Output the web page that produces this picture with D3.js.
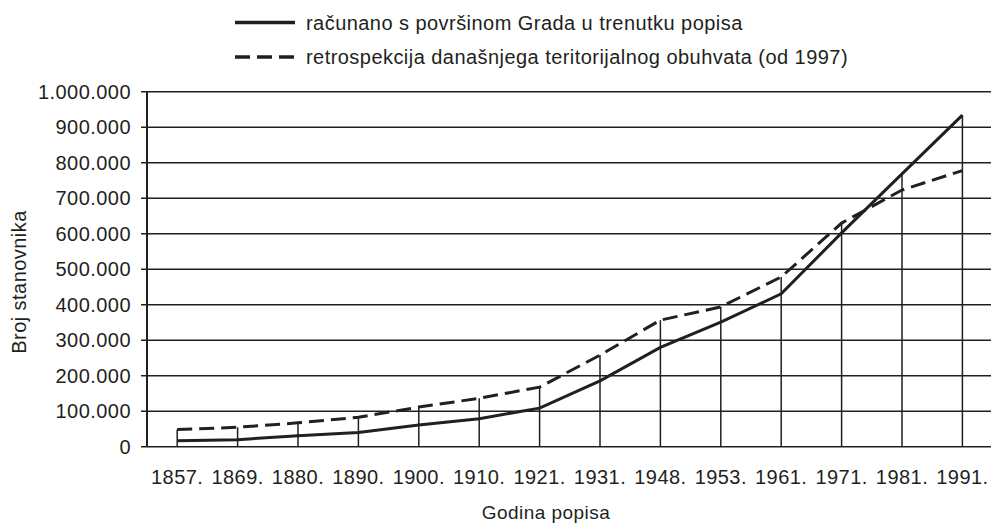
<!DOCTYPE html>
<html>
<head>
<meta charset="utf-8">
<script src="https://cdn.jsdelivr.net/npm/d3@7"></script>
<style>
  body { margin: 0; background: #fff; }
  svg text { font-family: "Liberation Sans", Arial, sans-serif; fill: #231f20; letter-spacing: 0.45px; }
</style>
</head>
<body>
<script>
// census years and population (Zagreb)
var years = ["1857.", "1869.", "1880.", "1890.", "1900.", "1910.", "1921.",
             "1931.", "1948.", "1953.", "1961.", "1971.", "1981.", "1991."];
var cityArea = [16657, 19857, 30830, 40268, 61002, 79038, 108674,
                185581, 279623, 350829, 430802, 602205, 768700, 933914];
var todayArea = [48266, 54761, 67188, 82848, 111565, 136351, 167765,
                 258024, 356529, 393919, 478076, 629896, 723065, 777826];
var yTicks = [0, 100000, 200000, 300000, 400000, 500000, 600000, 700000, 800000, 900000, 1000000];
var legendLabels = ["računano s površinom Grada u trenutku popisa",
                    "retrospekcija današnjega teritorijalnog obuhvata (od 1997)"];

var ink = "#231f20";

var svg = d3.select("body").append("svg")
    .attr("width", 991)
    .attr("height", 524);

var x = d3.scalePoint()
    .domain(years)
    .range([147, 992.6])
    .padding(0.5);

var y = d3.scaleLinear()
    .domain([0, 1000000])
    .range([446.7, 91.7]);

var fmt = d3.formatLocale({decimal: ",", thousands: ".", grouping: [3], currency: ["", ""]}).format(",");

// horizontal gridlines (they also act as the tick marks)
svg.append("g").selectAll("line")
    .data(yTicks)
    .enter().append("line")
    .attr("x1", 141)
    .attr("x2", 991)
    .attr("y1", function(d) { return y(d); })
    .attr("y2", function(d) { return y(d); })
    .attr("stroke", ink)
    .attr("stroke-width", 1.5);

svg.append("g").selectAll("text")
    .data(yTicks)
    .enter().append("text")
    .attr("x", 131)
    .attr("y", function(d) { return y(d); })
    .attr("dy", "0.36em")
    .attr("text-anchor", "end")
    .style("font-size", "20px")
    .text(function(d) { return fmt(d); });

// y axis line
svg.append("line")
    .attr("x1", 147).attr("x2", 147)
    .attr("y1", y(1000000)).attr("y2", y(0))
    .attr("stroke", ink)
    .attr("stroke-width", 2);

// drop lines from the higher point down to zero
svg.append("g").selectAll("line")
    .data(years)
    .enter().append("line")
    .attr("x1", function(d) { return x(d); })
    .attr("x2", function(d) { return x(d); })
    .attr("y1", y(0))
    .attr("y2", function(d, i) { return y(Math.max(cityArea[i], todayArea[i])); })
    .attr("stroke", ink)
    .attr("stroke-width", 1.5);

var line = d3.line()
    .x(function(d, i) { return x(years[i]); })
    .y(function(d) { return y(d); });

svg.append("path")
    .datum(todayArea)
    .attr("d", line)
    .attr("fill", "none")
    .attr("stroke", ink)
    .attr("stroke-width", 3)
    .attr("stroke-dasharray", "15,7");

svg.append("path")
    .datum(cityArea)
    .attr("d", line)
    .attr("fill", "none")
    .attr("stroke", ink)
    .attr("stroke-width", 3);

// x labels
svg.append("g").selectAll("text")
    .data(years)
    .enter().append("text")
    .attr("x", function(d) { return x(d); })
    .attr("y", 484)
    .attr("text-anchor", "middle")
    .style("font-size", "20px")
    .text(function(d) { return d; });

svg.append("text")
    .attr("x", 546)
    .attr("y", 519)
    .attr("text-anchor", "middle")
    .style("font-size", "19px")
    .text("Godina popisa");

svg.append("text")
    .attr("transform", "translate(26,282) rotate(-90)")
    .attr("text-anchor", "middle")
    .style("font-size", "20px")
    .text("Broj stanovnika");

// legend
var legendY = [22.5, 57];
var legendDash = [null, "15,7"];
var lg = svg.append("g").selectAll("g")
    .data(legendLabels)
    .enter().append("g");

lg.append("line")
    .attr("x1", 235).attr("x2", 295)
    .attr("y1", function(d, i) { return legendY[i]; })
    .attr("y2", function(d, i) { return legendY[i]; })
    .attr("stroke", ink)
    .attr("stroke-width", 3.5)
    .attr("stroke-dasharray", function(d, i) { return legendDash[i]; });

lg.append("text")
    .attr("x", 306)
    .attr("y", function(d, i) { return legendY[i]; })
    .attr("dy", "0.36em")
    .style("font-size", "20px")
    .text(function(d) { return d; });
</script>
</body>
</html>
